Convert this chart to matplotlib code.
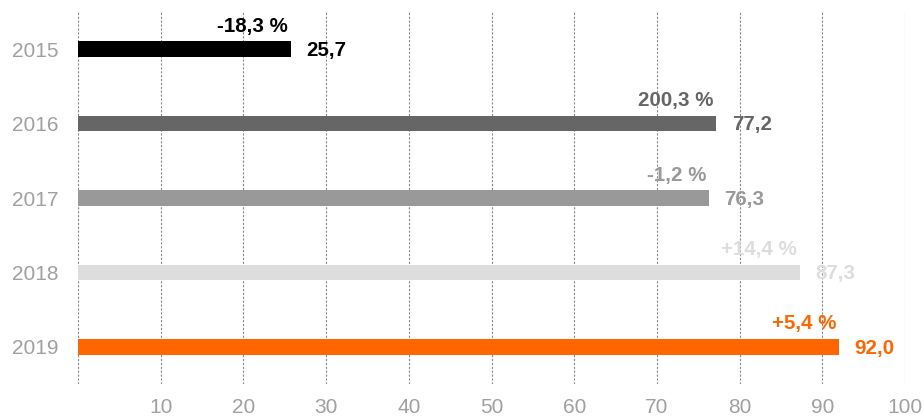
import matplotlib.pyplot as plt

years = ["2015", "2016", "2017", "2018", "2019"]
values = [25.7, 77.2, 76.3, 87.3, 92.0]
changes = ["-18,3 %", "200,3 %", "-1,2 %", "+14,4 %", "+5,4 %"]
colors = ["#000000", "#666666", "#999999", "#dddddd", "#ff6600"]
xticks = [10, 20, 30, 40, 50, 60, 70, 80, 90, 100]

plt.rcParams['font.family'] = ['Liberation Sans', 'DejaVu Sans']

W, H = 923, 418
fig = plt.figure(figsize=(W / 100, H / 100), dpi=100)
ax = fig.add_axes([78 / W, 1 - 384 / H, (905 - 78) / W, (384 - 12) / H])

pos = list(range(len(years)))
ax.barh(pos, values, height=0.21, color=colors, zorder=2)

for p, v, c, col in zip(pos, values, changes, colors):
    ax.annotate(f"{v:.1f}".replace(".", ","), (v, p), xytext=(11, -1),
                textcoords="offset points", ha="left", va="center",
                fontsize=14.8, fontweight="bold", color=col)
    ax.annotate(c, (v, p - 0.105), xytext=(-2, 4),
                textcoords="offset points", ha="right", va="bottom",
                fontsize=14.8, fontweight="bold", color=col)

ax.set_xlim(0, 100)
ax.set_ylim(len(years) - 0.5, -0.5)
ax.set_yticks(pos)
ax.set_yticklabels(years)
ax.set_xticks([0] + xticks)
ax.set_xticklabels([""] + [str(t) for t in xticks])
ax.tick_params(axis="both", length=0, labelsize=15, labelcolor="#a0a0a0")
ax.tick_params(axis="y", pad=14)
ax.tick_params(axis="x", pad=10)

ax.grid(axis="x", color="#888888", linestyle=(0, (2, 1.5)), linewidth=0.8, zorder=0)
ax.set_axisbelow(True)
for s in ax.spines.values():
    s.set_visible(False)

fig.savefig("out.png", dpi=100)
